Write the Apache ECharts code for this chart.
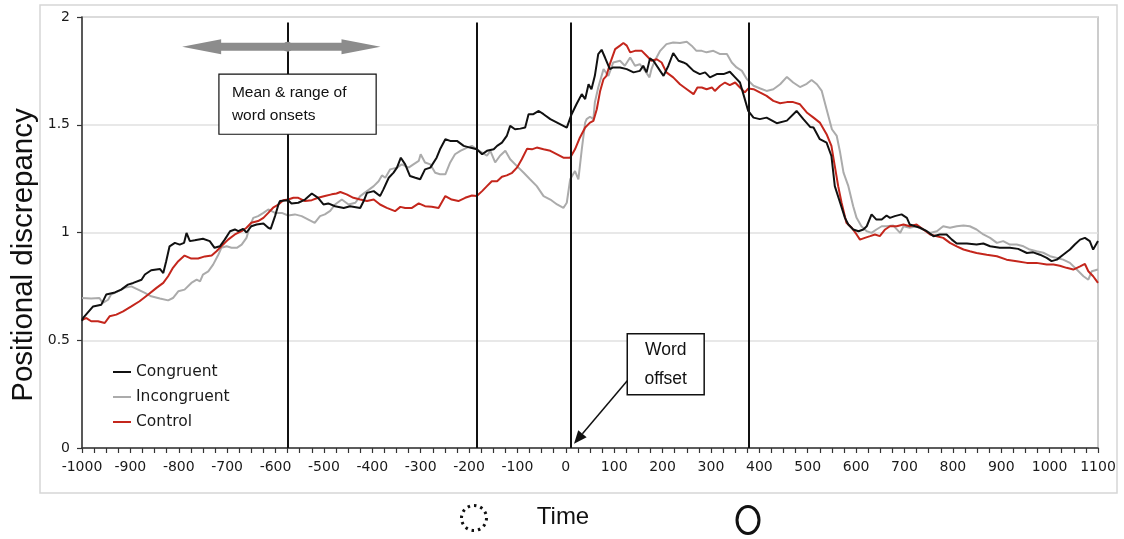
<!DOCTYPE html>
<html>
<head>
<meta charset="utf-8">
<script src="https://cdn.jsdelivr.net/npm/echarts@6/dist/echarts.min.js"></script>
<style>
  html, body { margin: 0; padding: 0; background: #fff; }
  #chart { width: 1124px; height: 539px; }
</style>
</head>
<body>
<div id="chart"></div>
<script>
// Positional discrepancy over time, [time (ms), discrepancy] pairs
const congruent = [
  [-1000,0.59],[-998,0.603],[-977,0.657],[-960,0.665],[-957,0.657],[-950,0.712],[-932,0.722],[-919,0.735],
  [-905,0.758],[-894,0.766],[-877,0.781],[-870,0.805],[-857,0.825],[-839,0.831],[-832,0.812],[-826,0.867],
  [-819,0.936],[-808,0.952],[-798,0.944],[-789,0.952],[-784,0.998],[-777,0.960],[-767,0.964],[-750,0.971],
  [-736,0.960],[-726,0.929],[-715,0.936],[-705,0.967],[-694,1.006],[-684,1.014],[-677,1.006],[-667,1.017],
  [-660,1.0],[-650,1.029],[-639,1.037],[-625,1.042],[-615,1.022],[-610,1.017],[-601,1.076],[-594,1.130],
  [-591,1.146],[-574,1.150],[-567,1.135],[-553,1.138],[-539,1.153],[-525,1.181],[-512,1.161],[-501,1.130],
  [-491,1.135],[-477,1.122],[-473,1.119],[-459,1.114],[-446,1.122],[-425,1.114],[-418,1.145],[-411,1.184],
  [-397,1.192],[-384,1.169],[-377,1.2],[-366,1.254],[-356,1.278],[-349,1.301],[-341,1.347],[-332,1.316],
  [-322,1.262],[-311,1.254],[-301,1.247],[-291,1.293],[-280,1.301],[-267,1.347],[-260,1.386],[-249,1.433],
  [-239,1.425],[-225,1.425],[-211,1.402],[-198,1.394],[-184,1.386],[-173,1.363],[-163,1.379],[-149,1.386],
  [-142,1.402],[-132,1.417],[-122,1.448],[-115,1.495],[-105,1.479],[-94,1.482],[-84,1.487],[-77,1.549],
  [-67,1.549],[-56,1.564],[-46,1.549],[-32,1.526],[-18,1.510],[-5,1.495],[2,1.487],[12,1.549],
  [22,1.595],[33,1.642],[40,1.619],[47,1.688],[53,1.665],[60,1.727],[67,1.828],[74,1.848],
  [81,1.812],[91,1.758],[98,1.766],[112,1.766],[126,1.758],[140,1.743],[153,1.750],[160,1.774],
  [167,1.743],[174,1.808],[181,1.797],[195,1.750],[202,1.727],[212,1.774],[222,1.833],[233,1.797],
  [243,1.789],[250,1.781],[264,1.750],[277,1.735],[288,1.743],[298,1.720],[312,1.735],[326,1.735],
  [339,1.746],[350,1.720],[360,1.696],[370,1.619],[377,1.564],[388,1.533],[401,1.526],[415,1.533],
  [436,1.507],[457,1.519],[477,1.564],[491,1.526],[505,1.490],[512,1.487],[525,1.433],[539,1.417],
  [549,1.355],[556,1.215],[567,1.138],[577,1.068],[584,1.037],[594,1.014],[605,1.006],[615,1.014],
  [622,1.029],[632,1.084],[642,1.060],[653,1.060],[663,1.079],[670,1.068],[680,1.076],[694,1.084],
  [705,1.068],[711,1.037],[722,1.029],[732,1.022],[746,1.006],[760,0.983],[773,0.991],[787,0.991],
  [798,0.967],[808,0.949],[829,0.949],[849,0.944],[863,0.949],[877,0.936],[897,0.929],[918,0.929],
  [935,0.924],[953,0.905],[966,0.908],[980,0.897],[994,0.882],[1004,0.867],[1015,0.874],[1028,0.897],
  [1042,0.921],[1052,0.944],[1063,0.967],[1073,0.975],[1083,0.960],[1090,0.921],[1100,0.960]
];

const incongruent = [
  [-1000,0.696],[-981,0.694],[-964,0.696],[-957,0.673],[-946,0.688],[-940,0.712],[-926,0.727],[-912,0.743],
  [-898,0.750],[-884,0.735],[-870,0.720],[-857,0.704],[-839,0.694],[-822,0.685],[-812,0.696],[-801,0.727],
  [-788,0.735],[-774,0.766],[-763,0.781],[-756,0.773],[-750,0.805],[-739,0.820],[-729,0.851],[-718,0.898],
  [-712,0.929],[-701,0.936],[-691,0.929],[-680,0.929],[-670,0.944],[-660,0.975],[-653,1.029],[-646,1.068],
  [-636,1.076],[-625,1.091],[-615,1.107],[-601,1.091],[-587,1.091],[-574,1.079],[-560,1.084],[-546,1.076],
  [-532,1.060],[-519,1.045],[-508,1.076],[-498,1.084],[-487,1.100],[-477,1.130],[-463,1.153],[-449,1.130],
  [-435,1.138],[-425,1.169],[-411,1.192],[-397,1.215],[-387,1.238],[-380,1.265],[-373,1.254],[-363,1.293],
  [-349,1.301],[-339,1.316],[-325,1.301],[-315,1.316],[-304,1.332],[-300,1.363],[-291,1.325],[-280,1.316],
  [-270,1.277],[-260,1.270],[-249,1.270],[-239,1.325],[-229,1.363],[-218,1.379],[-204,1.394],[-194,1.402],
  [-184,1.386],[-173,1.371],[-163,1.356],[-156,1.379],[-146,1.325],[-136,1.356],[-125,1.379],[-115,1.340],
  [-101,1.308],[-87,1.277],[-74,1.247],[-60,1.215],[-46,1.169],[-32,1.153],[-18,1.130],[-5,1.114],
  [2,1.138],[9,1.247],[19,1.285],[26,1.247],[33,1.386],[40,1.510],[43,1.526],[50,1.537],
  [57,1.526],[60,1.603],[67,1.673],[78,1.758],[88,1.727],[98,1.789],[112,1.797],[122,1.774],
  [133,1.812],[143,1.774],[153,1.781],[164,1.750],[173,1.720],[177,1.758],[184,1.797],[195,1.843],
  [208,1.874],[222,1.882],[236,1.879],[250,1.885],[260,1.867],[270,1.843],[281,1.843],[291,1.836],
  [305,1.843],[319,1.828],[333,1.828],[343,1.789],[353,1.766],[364,1.750],[374,1.712],[388,1.681],
  [402,1.668],[415,1.657],[429,1.665],[443,1.688],[457,1.722],[470,1.696],[484,1.675],[498,1.690],
  [508,1.708],[519,1.688],[529,1.657],[539,1.572],[550,1.479],[560,1.448],[567,1.371],[574,1.278],
  [584,1.215],[594,1.122],[601,1.068],[611,1.029],[622,1.006],[632,0.998],[642,1.014],[653,1.029],
  [663,1.029],[677,1.032],[691,0.998],[698,1.029],[711,1.022],[725,1.029],[739,1.014],[753,0.998],
  [767,1.006],[780,1.029],[794,1.022],[808,1.029],[822,1.032],[835,1.029],[849,1.014],[863,0.991],
  [877,0.975],[891,0.952],[904,0.960],[918,0.944],[932,0.944],[946,0.936],[959,0.921],[973,0.913],
  [987,0.906],[1001,0.890],[1015,0.882],[1028,0.874],[1042,0.859],[1056,0.828],[1070,0.797],[1080,0.781],
  [1087,0.820],[1100,0.828]
];

const control = [
  [-1000,0.595],[-991,0.603],[-981,0.588],[-967,0.588],[-953,0.580],[-943,0.611],[-929,0.619],[-915,0.634],
  [-898,0.657],[-881,0.681],[-863,0.712],[-846,0.743],[-832,0.766],[-822,0.797],[-812,0.836],[-801,0.867],
  [-788,0.893],[-774,0.879],[-760,0.879],[-746,0.889],[-732,0.893],[-722,0.913],[-712,0.936],[-698,0.967],
  [-684,0.991],[-670,1.006],[-660,1.022],[-650,1.045],[-636,1.053],[-625,1.068],[-615,1.091],[-605,1.115],
  [-594,1.130],[-584,1.150],[-574,1.153],[-563,1.161],[-553,1.161],[-539,1.146],[-525,1.150],[-512,1.161],
  [-498,1.169],[-484,1.177],[-474,1.181],[-466,1.188],[-453,1.177],[-439,1.161],[-425,1.153],[-411,1.146],
  [-397,1.153],[-384,1.130],[-370,1.114],[-353,1.099],[-342,1.119],[-332,1.114],[-318,1.114],[-304,1.135],
  [-291,1.122],[-277,1.119],[-263,1.114],[-249,1.169],[-236,1.153],[-222,1.146],[-208,1.161],[-194,1.172],
  [-184,1.169],[-173,1.192],[-163,1.215],[-153,1.238],[-142,1.238],[-132,1.259],[-122,1.265],[-111,1.277],
  [-101,1.301],[-91,1.340],[-80,1.389],[-70,1.386],[-60,1.394],[-46,1.386],[-32,1.379],[-18,1.363],
  [-5,1.347],[9,1.347],[19,1.386],[29,1.440],[40,1.487],[50,1.510],[57,1.518],[64,1.572],
  [71,1.657],[78,1.712],[84,1.727],[91,1.781],[102,1.851],[112,1.867],[119,1.879],[126,1.867],
  [133,1.836],[143,1.843],[157,1.843],[167,1.820],[177,1.797],[188,1.804],[198,1.789],[208,1.743],
  [222,1.720],[236,1.688],[250,1.665],[264,1.642],[272,1.673],[281,1.673],[291,1.665],[302,1.673],
  [308,1.657],[319,1.681],[329,1.696],[339,1.684],[350,1.696],[360,1.673],[370,1.650],[377,1.668],
  [388,1.665],[401,1.650],[415,1.634],[429,1.611],[443,1.600],[457,1.605],[470,1.605],[484,1.595],
  [498,1.557],[512,1.533],[525,1.510],[539,1.456],[549,1.402],[556,1.308],[563,1.215],[570,1.138],
  [580,1.045],[591,1.022],[601,0.991],[608,0.967],[618,0.975],[629,0.983],[639,0.991],[649,0.983],
  [660,1.014],[670,1.029],[684,1.029],[698,1.037],[711,1.029],[725,1.037],[739,1.014],[753,0.991],
  [767,0.983],[780,0.975],[794,0.952],[808,0.936],[822,0.921],[835,0.913],[849,0.905],[870,0.897],
  [891,0.890],[911,0.874],[932,0.867],[953,0.859],[973,0.859],[994,0.851],[1008,0.851],[1021,0.846],
  [1035,0.836],[1049,0.828],[1063,0.843],[1073,0.854],[1080,0.820],[1090,0.797],[1100,0.766]
];

const seriesNames = ['Congruent', 'Incongruent', 'Control'];

// Event markers (ms): earliest onset, latest onset, word offset, end of window
const eventTimes = [-575, -185, 10, 378];
// Word onsets: mean and range (ms)
const onsetMean = -575;
const onsetRange = [-793, -383];

const chart = echarts.init(document.getElementById('chart'), null, { renderer: 'canvas' });

const tickFont = 'DejaVu Sans';
const textColor = '#1a1a1a';

chart.setOption({
  animation: false,
  backgroundColor: '#fff',
  grid: {
    left: 82, right: 26, top: 17, bottom: 91,
    show: true, borderColor: '#bcbcbc', borderWidth: 1.5, backgroundColor: 'transparent'
  },
  legend: {
    orient: 'vertical',
    left: 113, top: 364, padding: 0,
    itemWidth: 18, itemHeight: 2, itemGap: 9,
    icon: 'rect',
    data: seriesNames,
    textStyle: { fontFamily: tickFont, fontSize: 15.5, color: textColor, lineHeight: 15 }
  },
  xAxis: {
    type: 'value',
    min: -1000, max: 1100, interval: 100,
    axisLine: { show: true, onZero: false, lineStyle: { color: '#333', width: 1.5 } },
    axisTick: { show: true, length: 5, lineStyle: { color: '#333', width: 1.2 } },
    minorTick: { show: true, splitNumber: 4, length: 5, lineStyle: { color: '#333', width: 1.2 } },
    splitLine: { show: false },
    axisLabel: { fontFamily: tickFont, fontSize: 14, color: textColor, margin: 12, formatter: v => String(v) }
  },
  yAxis: {
    type: 'value',
    min: 0, max: 2, interval: 0.5,
    axisLine: { show: true, onZero: false, lineStyle: { color: '#333', width: 1.5 } },
    axisTick: { show: true, length: 5, lineStyle: { color: '#333', width: 1.2 } },
    splitLine: { show: true, lineStyle: { color: '#e0e0e0', width: 1.5 } },
    axisLabel: { fontFamily: tickFont, fontSize: 14, color: textColor, margin: 12, formatter: v => String(v) }
  },
  series: [
    {
      name: 'Incongruent', type: 'line', data: incongruent, z: 2,
      showSymbol: false, symbol: 'none',
      lineStyle: { color: '#ababab', width: 2 }, itemStyle: { color: '#ababab' }
    },
    {
      name: 'Control', type: 'line', data: control, z: 3,
      showSymbol: false, symbol: 'none',
      lineStyle: { color: '#c4261c', width: 2 }, itemStyle: { color: '#c4261c' }
    },
    {
      name: 'Congruent', type: 'line', data: congruent, z: 4,
      showSymbol: false, symbol: 'none',
      lineStyle: { color: '#111', width: 2 }, itemStyle: { color: '#111' },
      markLine: {
        silent: true,
        symbol: ['none', 'none'],
        label: { show: false },
        lineStyle: { color: '#111', width: 2, type: 'solid' },
        data: eventTimes.map(t => [{ coord: [t, 0] }, { coord: [t, 1.975] }])
      }
    }
  ]
});

// Annotations placed from data coordinates
const toPx = (t, v) => chart.convertToPixel({ gridIndex: 0 }, [t, v]);

const arrowLevel = 1.862;
const [lx, ay] = toPx(onsetRange[0], arrowLevel);
const [rx] = toPx(onsetRange[1], arrowLevel);
const [mx] = toPx(onsetMean, arrowLevel);
const headLen = 39, headHalf = 7.5, shaftHalf = 4;

const meanBoxTL = toPx(-717, 1.735);
const meanBoxBR = toPx(-392, 1.456);

const offBoxTL = toPx(127, 0.530);
const offBoxBR = toPx(286, 0.247);
const offFrom = toPx(127, 0.312);
const offTip = toPx(17, 0.02);
const ang = Math.atan2(offTip[1] - offFrom[1], offTip[0] - offFrom[0]);
const ahL = 13, ahW = 5.5;
const baseX = offTip[0] - ahL * Math.cos(ang), baseY = offTip[1] - ahL * Math.sin(ang);
const nx = -Math.sin(ang), ny = Math.cos(ang);

chart.setOption({
  graphic: [
    // outer frame
    {
      type: 'rect', z: -10, silent: true,
      shape: { x: 40, y: 5, width: 1077, height: 488 },
      style: { fill: 'none', stroke: '#d6d6d6', lineWidth: 1.5 }
    },
    // double-headed arrow for the onset range
    {
      type: 'polygon', z: 50, silent: true,
      shape: {
        points: [
          [lx, ay], [lx + headLen, ay - headHalf], [lx + headLen, ay - shaftHalf],
          [rx - headLen, ay - shaftHalf], [rx - headLen, ay - headHalf], [rx, ay],
          [rx - headLen, ay + headHalf], [rx - headLen, ay + shaftHalf],
          [lx + headLen, ay + shaftHalf], [lx + headLen, ay + headHalf]
        ]
      },
      style: { fill: '#8c8c8c' }
    },
    {
      type: 'circle', z: 51, silent: true,
      shape: { cx: mx, cy: ay, r: 5 },
      style: { fill: '#8c8c8c' }
    },
    // onset box
    {
      type: 'rect', z: 52, silent: true,
      shape: { x: meanBoxTL[0], y: meanBoxTL[1], width: meanBoxBR[0] - meanBoxTL[0], height: meanBoxBR[1] - meanBoxTL[1] },
      style: { fill: '#fff', stroke: '#111', lineWidth: 1.2 }
    },
    {
      type: 'text', z: 53, silent: true,
      x: meanBoxTL[0] + 13, y: meanBoxTL[1] + 7,
      style: {
        text: 'Mean & range of\nword onsets',
        fontFamily: 'Liberation Sans', fontSize: 15.5, lineHeight: 23, fill: '#111'
      }
    },
    // word offset box and pointer
    {
      type: 'rect', z: 52, silent: true,
      shape: { x: offBoxTL[0], y: offBoxTL[1], width: offBoxBR[0] - offBoxTL[0], height: offBoxBR[1] - offBoxTL[1] },
      style: { fill: '#fff', stroke: '#111', lineWidth: 1.5 }
    },
    {
      type: 'text', z: 53, silent: true,
      x: (offBoxTL[0] + offBoxBR[0]) / 2, y: (offBoxTL[1] + offBoxBR[1]) / 2,
      style: {
        text: 'Word\noffset', align: 'center', verticalAlign: 'middle',
        fontFamily: 'Liberation Sans', fontSize: 17.5, lineHeight: 29, fill: '#111'
      }
    },
    {
      type: 'line', z: 53, silent: true,
      shape: { x1: offFrom[0], y1: offFrom[1], x2: baseX, y2: baseY },
      style: { stroke: '#111', lineWidth: 1.5 }
    },
    {
      type: 'polygon', z: 53, silent: true,
      shape: { points: [offTip, [baseX + nx * ahW, baseY + ny * ahW], [baseX - nx * ahW, baseY - ny * ahW]] },
      style: { fill: '#111' }
    },
    // axis titles
    {
      type: 'text', z: 60, silent: true,
      x: 24, y: 255, rotation: Math.PI / 2,
      style: {
        text: 'Positional discrepancy', align: 'center', verticalAlign: 'middle',
        fontFamily: 'Liberation Sans', fontSize: 29.5, fill: '#111'
      }
    },
    {
      type: 'text', z: 60, silent: true,
      x: 563, y: 517,
      style: {
        text: 'Time', align: 'center', verticalAlign: 'middle',
        fontFamily: 'Liberation Sans', fontSize: 24, fill: '#111'
      }
    },
    // start / end of gesture markers under the axis
    {
      type: 'circle', z: 60, silent: true,
      shape: { cx: 474, cy: 518, r: 12.5 },
      style: { fill: 'none', stroke: '#111', lineWidth: 3, lineDash: [2.5, 4] }
    },
    {
      type: 'ellipse', z: 60, silent: true,
      shape: { cx: 748, cy: 520, rx: 11, ry: 13.5 },
      style: { fill: 'none', stroke: '#111', lineWidth: 3 }
    }
  ]
});
</script>
</body>
</html>
